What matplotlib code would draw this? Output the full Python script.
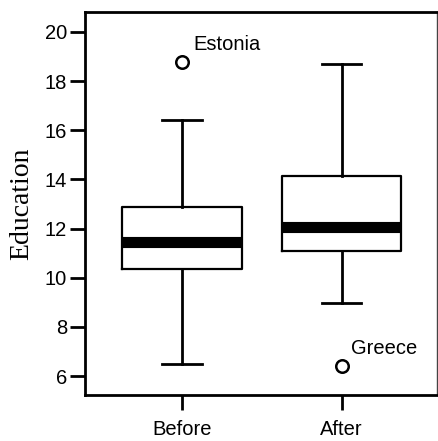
import matplotlib
matplotlib.use("Agg")
import matplotlib.pyplot as plt

categories = ["Before", "After"]
whisker_low = [6.49, 8.98]
q1 = [10.34, 11.09]
median = [11.47, 12.08]
q3 = [12.89, 14.15]
whisker_high = [16.41, 18.69]
outlier_values = [[18.78], [6.42]]
outlier_labels = ["Estonia", "Greece"]
yticks = [6, 8, 10, 12, 14, 16, 18, 20]

fig = plt.figure(figsize=(4.38, 4.41), dpi=100)
ax = fig.add_axes([0.194, 0.1043, 0.804, 0.8685])

stats = []
for i, c in enumerate(categories):
    stats.append(dict(label=c, whislo=whisker_low[i], q1=q1[i], med=median[i],
                      q3=q3[i], whishi=whisker_high[i], fliers=outlier_values[i]))

ax.bxp(stats, positions=[1, 2], widths=0.75, showfliers=True,
       boxprops=dict(color="black", linewidth=1.6),
       medianprops=dict(color="black", linewidth=8, solid_capstyle="butt"),
       whiskerprops=dict(color="black", linewidth=2),
       capprops=dict(color="black", linewidth=2),
       capwidths=0.25,
       flierprops=dict(marker="o", markerfacecolor="white", markeredgecolor="black",
                       markersize=9, markeredgewidth=1.8))

offsets = [(8, 8.5), (7, 8.5)]
for i, lab in enumerate(outlier_labels):
    ax.annotate(lab, (i + 1, outlier_values[i][0]), xytext=offsets[i],
                textcoords="offset points", fontsize=14.5, family="Liberation Sans",
                ha="left", va="baseline")

ax.set_xlim(0.39, 2.6)
ax.set_ylim(5.23, 20.81)
ax.set_yticks(yticks)
ax.set_xticks([1, 2])
ax.set_xticklabels(categories)
for lab in ax.get_xticklabels() + ax.get_yticklabels():
    lab.set_family("Liberation Sans")
    lab.set_fontsize(14.5)
ax.tick_params(direction="out", length=11, width=2)
ax.tick_params(axis="y", pad=2)
ax.tick_params(axis="x", pad=7)
ax.set_ylabel("Education", family="Liberation Serif", fontsize=20)
ax.yaxis.set_label_coords(-0.145, 0.5)

for s in ["left", "bottom", "top"]:
    ax.spines[s].set_linewidth(2)
ax.spines["right"].set_linewidth(1)
ax.spines["right"].set_color("#444444")

fig.savefig("out.png", dpi=100)
